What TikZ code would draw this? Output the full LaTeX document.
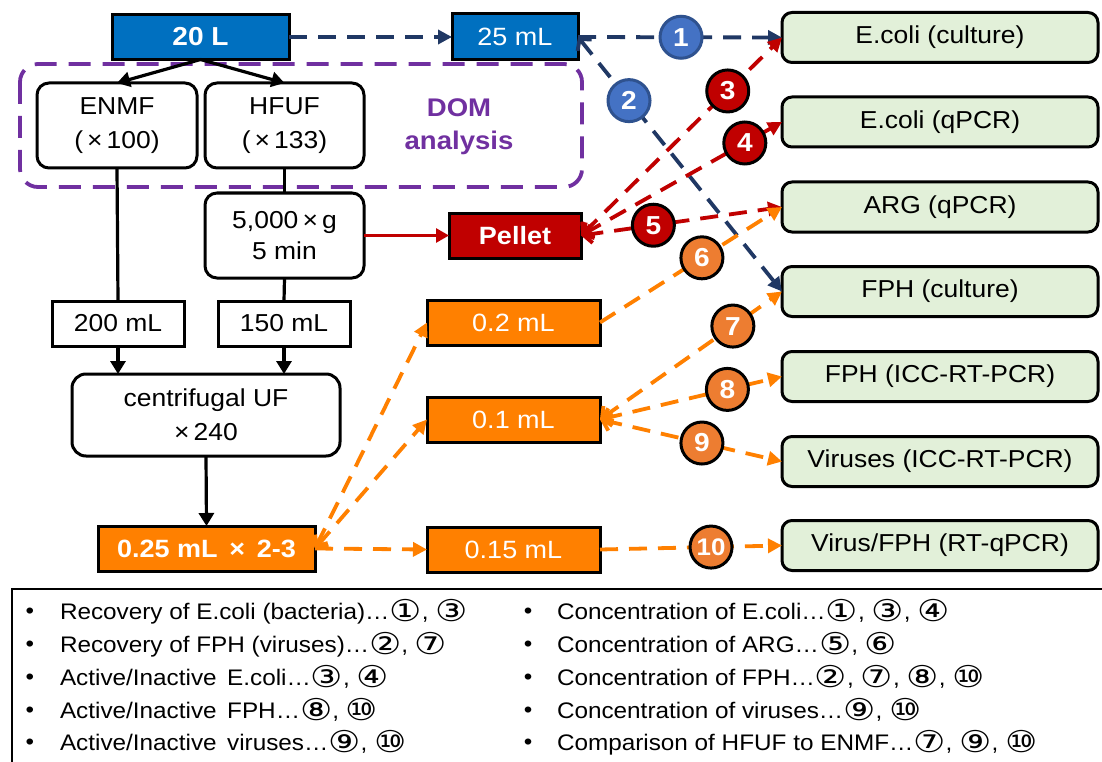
\documentclass[tikz,border=0pt]{standalone}
\usepackage{fontspec}
\setmainfont[FakeStretch=1.08]{Liberation Sans}
\newfontfamily\circfont[FakeStretch=1.2]{DejaVu Sans}
\usetikzlibrary{arrows.meta,calc}
\definecolor{boxblue}{HTML}{0070C0}
\definecolor{navyline}{HTML}{203864}
\definecolor{dompurple}{HTML}{7030A0}
\definecolor{pelred}{HTML}{C00000}
\definecolor{boxorange}{HTML}{FF8000}
\definecolor{circorange}{HTML}{ED7D31}
\definecolor{circblue}{HTML}{4472C4}
\definecolor{circblueline}{HTML}{2F528F}
\definecolor{outgreen}{HTML}{E2F0D9}
\newcommand{\mycirc}[1]{\raisebox{-2.5pt}{\circfont\fontsize{30}{26}\selectfont #1}}
\tikzset{
  every node/.style={inner sep=0pt, outer sep=0pt},
  fbox/.style={draw=black, line width=3pt, minimum height=45pt, text=white, font=\fontsize{25}{30}\selectfont},
  wbox/.style={draw=black, line width=3pt, fill=white, align=center, font=\fontsize{24.5}{34}\selectfont},
  gbox/.style={draw=black, line width=3pt, fill=outgreen, rounded corners=10pt, minimum width=316pt, minimum height=50pt, font=\fontsize{24.5}{30}\selectfont},
  blk/.style={line width=3.2pt, draw=black},
  blkarrow/.style={blk, -{Triangle[length=13pt,width=15pt]}},
  dsh/.style={line width=3.8pt, dash pattern=on 18pt off 11pt},
  navyd/.style={dsh, draw=navyline},
  redd/.style={dsh, draw=pelred},
  orad/.style={dsh, draw=boxorange},
  tipE/.style={-{Triangle[length=14pt,width=14pt]}},
  tipB/.style={{Straight Barb[length=8pt,width=18pt]}-{Triangle[length=14pt,width=14pt]}},
  cnode/.style={circle, minimum size=42pt, line width=3pt, text=white, font=\fontsize{26}{26}\selectfont\bfseries},
  bc/.style={cnode, fill=circblue, draw=circblueline},
  rc/.style={cnode, fill=pelred, draw=black},
  oc/.style={cnode, fill=circorange, draw=black},
  leg/.style={anchor=west, font=\fontsize{22.5}{26}\selectfont, text height=17pt, text depth=5pt},
}
\begin{document}
\begin{tikzpicture}[x=1pt,y=-1pt]
\useasboundingbox[fill=white] (0,0) rectangle (1102,762);

% DOM analysis dashed region
\draw[line width=3.8pt, dash pattern=on 22pt off 12pt, draw=dompurple, rounded corners=18pt] (20,64) rectangle (582,187);
\node[text=dompurple, align=center, font=\fontsize{25.5}{33}\selectfont\bfseries] (dom) at (459,127) {DOM\\analysis};

% left flow boxes
\node[fbox, fill=boxblue, minimum width=177pt, font=\fontsize{26}{30}\selectfont\bfseries] (n20) at (200.5,37) {20 L};
\node[fbox, fill=boxblue, minimum width=126pt, minimum height=46pt] (n25) at (515,37) {25 mL};
\node[wbox, rounded corners=12pt, minimum width=160pt, minimum height=85pt] (enmf) at (117,125.5) {ENMF\\(\,×\,100)};
\node[wbox, rounded corners=12pt, minimum width=159pt, minimum height=85pt] (hfuf) at (284.5,125.5) {HFUF\\(\,×\,133)};
\node[wbox, rounded corners=12pt, minimum width=159pt, minimum height=85pt, font=\fontsize{24.5}{31}\selectfont] (g5) at (284.5,235.5) {5,000\,×\,g\\5 min};
\node[fbox, fill=pelred, minimum width=132pt, font=\fontsize{25}{30}\selectfont\bfseries] (pel) at (515,235.5) {Pellet};
\node[wbox, minimum width=132pt, minimum height=45pt] (m200) at (118,323.5) {200 mL};
\node[wbox, minimum width=132pt, minimum height=45pt] (m150) at (284,323.5) {150 mL};
\node[wbox, rounded corners=14pt, minimum width=268pt, minimum height=82pt] (cuf) at (206,415) {centrifugal UF\\×\,240};
\node[fbox, fill=boxorange, minimum width=217pt, font=\fontsize{25}{30}\selectfont\bfseries] (q025) at (206.5,548.5) {0.25 mL\, ×\, 2-3};
\node[fbox, fill=boxorange, minimum width=173pt] (m02) at (513.5,322.5) {0.2 mL};
\node[fbox, fill=boxorange, minimum width=173pt] (m01) at (513.5,419.5) {0.1 mL};
\node[fbox, fill=boxorange, minimum width=173pt] (m015) at (513.5,549.5) {0.15 mL};

% right boxes
\node[gbox] (ecul) at (940,37.5) {E.coli (culture)};
\node[gbox] (eqp) at (940,122) {E.coli (qPCR)};
\node[gbox] (arg) at (940,207) {ARG (qPCR)};
\node[gbox] (fcul) at (940,291.5) {FPH (culture)};
\node[gbox] (ficc) at (940,376.5) {FPH (ICC-RT-PCR)};
\node[gbox] (vicc) at (940,461.5) {Viruses (ICC-RT-PCR)};
\node[gbox] (vqp) at (940,545.5) {Virus/FPH (RT-qPCR)};

% black connectors
\draw[blkarrow] (n20.south) -- (enmf.north);
\draw[blkarrow] (n20.south) -- (hfuf.north);
\draw[blk] (enmf.south) -- (m200.north);
\draw[blk] (hfuf.south) -- (g5.north);
\draw[blk] (g5.south) -- (m150.north);
\draw[blkarrow] (m200.south) -- (m200.south |- cuf.north);
\draw[blkarrow] (m150.south) -- (m150.south |- cuf.north);
\draw[blkarrow] (cuf.south) -- (q025.north);
\draw[line width=2.8pt, draw=pelred, -{Triangle[length=13pt,width=14pt]}] (g5.east) -- (pel.west);

% dashed connectors
\draw[navyd, tipE] (n20.east) -- (n25.west);
\draw[navyd, tipE] (n25.east) -- coordinate[pos=0.505] (c1) (ecul.west);
\draw[navyd, tipB] (n25.east) -- coordinate[pos=0.25] (c2) (fcul.west);
\draw[redd, tipB] (pel.east) -- coordinate[pos=0.73] (c3) (ecul.west);
\draw[redd, tipB] (pel.east) -- coordinate[pos=0.815] (c4) (eqp.west);
\draw[redd, tipB] (pel.east) -- coordinate[pos=0.36] (c5) (arg.west);
\draw[orad, tipE] (m02.east) -- coordinate[pos=0.56] (c6) (arg.west);
\draw[orad, tipB] (m01.east) -- coordinate[pos=0.73] (c7) (fcul.west);
\draw[orad, tipB] (m01.east) -- coordinate[pos=0.70] (c8) (ficc.west);
\draw[orad, tipB] (m01.east) -- coordinate[pos=0.56] (c9) (vicc.west);
\draw[orad, tipE] (m015.east) -- coordinate[pos=0.61] (c10) (vqp.west);
\draw[orad, tipB] (q025.east) -- (m02.west);
\draw[orad, tipB] (q025.east) -- (m01.west);
\draw[orad, tipE] (q025.east) -- (m015.west);

% numbered circles
\node[bc] (k1) at (c1) {1};
\node[bc] (k2) at (c2) {2};
\node[rc] (k3) at (c3) {3};
\node[rc] (k4) at (c4) {4};
\node[rc] (k5) at (c5) {5};
\node[oc] (k6) at (c6) {6};
\node[oc] (k7) at (c7) {7};
\node[oc] (k8) at (c8) {8};
\node[oc] (k9) at (c9) {9};
\node[oc, font=\fontsize{24}{24}\selectfont\bfseries] (k10) at (c10) {10};

% legend
\draw[line width=2pt] (12,762) -- (12,589) -- (1102,589);
\foreach \yy/\nm in {613/a,646/b,679/c,712/d,744/e}{
  \node[font=\fontsize{22.5}{26}\selectfont] (bl\nm) at (30,\yy) {•};
  \node[font=\fontsize{22.5}{26}\selectfont] (br\nm) at (528,\yy) {•};
}
\node[leg] (la) at (60,613) {Recovery of E.coli (bacteria)…\mycirc{①}, \mycirc{③}};
\node[leg] (lb) at (60,646) {Recovery of FPH (viruses)…\mycirc{②}, \mycirc{⑦}};
\node[leg] (lc) at (60,679) {Active/Inactive\, E.coli…\mycirc{③}, \mycirc{④}};
\node[leg] (ld) at (60,712) {Active/Inactive\, FPH…\mycirc{⑧}, \mycirc{⑩}};
\node[leg] (le) at (60,744) {Active/Inactive\, viruses…\mycirc{⑨}, \mycirc{⑩}};
\node[leg] (ra) at (557,613) {Concentration of E.coli…\mycirc{①}, \mycirc{③}, \mycirc{④}};
\node[leg] (rb) at (557,646) {Concentration of ARG…\mycirc{⑤}, \mycirc{⑥}};
\node[leg] (rc) at (557,679) {Concentration of FPH…\mycirc{②}, \mycirc{⑦}, \mycirc{⑧}, \mycirc{⑩}};
\node[leg] (rd) at (557,712) {Concentration of viruses…\mycirc{⑨}, \mycirc{⑩}};
\node[leg] (re) at (557,744) {Comparison of HFUF to ENMF…\mycirc{⑦}, \mycirc{⑨}, \mycirc{⑩}};
\end{tikzpicture}
\end{document}
